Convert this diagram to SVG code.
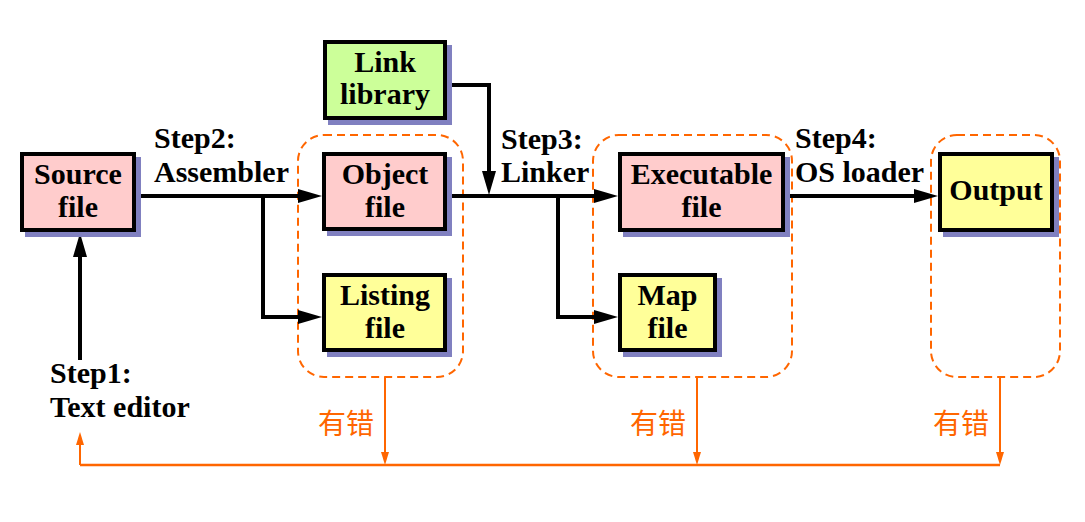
<svg xmlns="http://www.w3.org/2000/svg" width="1085" height="522" viewBox="0 0 1085 522">
<defs>
<style>
.box{stroke:#000;stroke-width:4}
.shadow{fill:#8080c0}
.pink{fill:#ffcccc}
.yellow{fill:#ffff99}
.green{fill:#ccff99}
.t{font-family:'Liberation Serif','Times New Roman',Times,'Nimbus Roman','DejaVu Serif',serif;font-weight:700;font-size:30px;fill:#000}
.c{text-anchor:middle}
.cn{font-family:'Noto Sans CJK SC',sans-serif;font-size:28px;fill:#ff6600}
.conn{fill:none;stroke:#000;stroke-width:4}
.oconn{fill:none;stroke:#ff6600;stroke-width:2}
.group{fill:none;stroke:#ff6600;stroke-width:2;stroke-dasharray:8 5}
</style>
<marker id="arr" markerUnits="userSpaceOnUse" markerWidth="24" markerHeight="14" refX="0" refY="7" orient="auto">
<path d="M0,0 L24,7 L0,14 z" fill="#000"/>
</marker>
<marker id="oarr" markerUnits="userSpaceOnUse" markerWidth="13" markerHeight="8" refX="0" refY="4" orient="auto">
<path d="M0,0 L13,4 L0,8 z" fill="#ff6600"/>
</marker>
</defs>
<rect width="1085" height="522" fill="#fff"/>

<g id="groups">
<rect class="group" x="298" y="135" width="165" height="242" rx="26"/>
<rect class="group" x="593" y="135" width="199" height="242" rx="26"/>
<rect class="group" x="931" y="135" width="129" height="242" rx="26"/>
</g>

<g id="connectors">
<path class="conn" d="M136,196 H298" marker-end="url(#arr)"/>
<path class="conn" d="M263,196 V317 H298" marker-end="url(#arr)"/>
<path class="conn" d="M447,196 H594" marker-end="url(#arr)"/>
<path class="conn" d="M447,85 H489 V171" marker-end="url(#arr)"/>
<path class="conn" d="M558,196 V317 H594" marker-end="url(#arr)"/>
<path class="conn" d="M785,196 H914" marker-end="url(#arr)"/>
<path class="conn" d="M80,360 V257" marker-end="url(#arr)"/>
<path class="oconn" d="M385,377 V452" marker-end="url(#oarr)"/>
<path class="oconn" d="M697,377 V452" marker-end="url(#oarr)"/>
<path class="oconn" d="M1000,377 V452" marker-end="url(#oarr)"/>
<path class="oconn" d="M80,465 H1000" style="stroke-width:2.5"/>
<path class="oconn" d="M80,465 V445" marker-end="url(#oarr)"/>
</g>

<g id="source">
<rect class="shadow" x="25" y="157" width="116" height="80"/>
<rect class="box pink" x="22" y="154" width="112" height="76"/>
<text class="t c" x="78" y="184">Source</text>
<text class="t c" x="78" y="217">file</text>
</g>
<g id="object">
<rect class="shadow" x="327" y="157" width="125" height="79"/>
<rect class="box pink" x="324" y="154" width="121" height="75"/>
<text class="t c" x="385" y="184">Object</text>
<text class="t c" x="385" y="217">file</text>
</g>
<g id="listing">
<rect class="shadow" x="327" y="278" width="125" height="79"/>
<rect class="box yellow" x="324" y="275" width="121" height="75"/>
<text class="t c" x="385" y="305">Listing</text>
<text class="t c" x="385" y="338">file</text>
</g>
<g id="linklib">
<rect class="shadow" x="328" y="45" width="124" height="80"/>
<rect class="box green" x="325" y="42" width="120" height="76"/>
<text class="t c" x="385" y="72">Link</text>
<text class="t c" x="385" y="104">library</text>
</g>
<g id="executable">
<rect class="shadow" x="623" y="157" width="167" height="80"/>
<rect class="box pink" x="620" y="154" width="163" height="76"/>
<text class="t c" x="701.5" y="184">Executable</text>
<text class="t c" x="701.5" y="217">file</text>
</g>
<g id="map">
<rect class="shadow" x="623" y="278" width="99" height="79"/>
<rect class="box yellow" x="620" y="275" width="95" height="75"/>
<text class="t c" x="667.5" y="305">Map</text>
<text class="t c" x="667.5" y="338">file</text>
</g>
<g id="output">
<rect class="shadow" x="943" y="157" width="116" height="80"/>
<rect class="box yellow" x="940" y="154" width="112" height="76"/>
<text class="t c" x="996" y="200">Output</text>
</g>

<g id="labels">
<text class="t" x="154" y="148">Step2:</text>
<text class="t" x="154" y="182">Assembler</text>
<text class="t" x="501" y="149">Step3:</text>
<text class="t" x="501" y="182">Linker</text>
<text class="t" x="795" y="148">Step4:</text>
<text class="t" x="795" y="182">OS loader</text>
<text class="t" x="50" y="383">Step1:</text>
<text class="t" x="50" y="417">Text editor</text>
<text class="cn" x="318" y="434">有错</text>
<text class="cn" x="630" y="434">有错</text>
<text class="cn" x="933" y="434">有错</text>
</g>
</svg>
